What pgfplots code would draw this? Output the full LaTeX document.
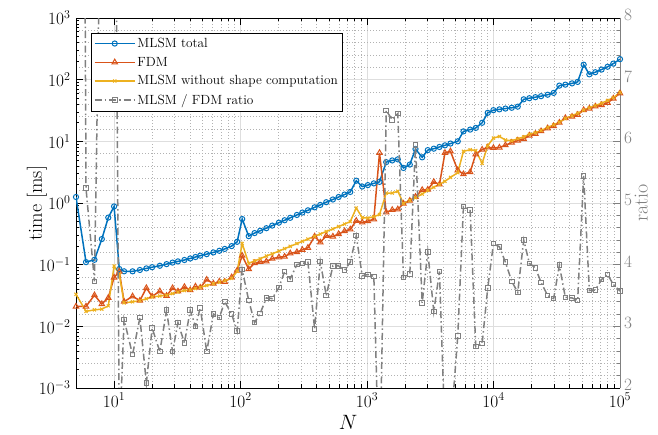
\documentclass[border=0pt]{standalone}
\usepackage{pgfplots}
\usepackage{pgfplotstable}
\pgfplotsset{compat=1.18}

\definecolor{mblue}{RGB}{0,114,189}
\definecolor{mred}{RGB}{217,83,25}
\definecolor{myellow}{RGB}{237,177,32}
\definecolor{mgray}{RGB}{128,128,128}

% N, MLSM total, FDM, MLSM without shape computation [ms], ratio MLSM/FDM
\pgfplotstableread{
N      mlsm   fdm     noshape  ratio
5      1.25   0.021   0.033    40
6      0.11   0.021   0.0175   5.24
7      0.12   0.032   0.0185   3.73
8      0.26   0.023   0.019    11.3
9      0.58   0.029   0.0215   20
10     0.88   0.062   0.095    14.2
11     0.085  0.077   0.070    1.10
12     0.078  0.0251  0.024    3.11
14     0.078  0.0307  0.025    2.54
16     0.082  0.0261  0.026    3.14
18     0.087  0.0418  0.028    2.08
20     0.091  0.0306  0.030    2.97
23     0.096  0.0371  0.031    2.59
26     0.102  0.0313  0.032    3.26
29     0.108  0.0417  0.034    2.59
32     0.113  0.0369  0.036    3.06
36     0.119  0.0436  0.038    2.73
40     0.126  0.0387  0.039    3.26
44     0.133  0.0443  0.041    3.00
48     0.140  0.0424  0.043    3.30
54     0.148  0.0571  0.046    2.59
61     0.158  0.0494  0.049    3.20
68     0.168  0.0535  0.052    3.14
75     0.180  0.0529  0.055    3.40
85     0.200  0.0625  0.060    3.20
94     0.235  0.0805  0.078    2.92
103    0.55   0.140   0.22     3.92
116    0.29   0.0848  0.105    3.42
129    0.325  0.106   0.115    3.06
143    0.355  0.111   0.125    3.21
160    0.39   0.113   0.138    3.46
178    0.43   0.125   0.150    3.45
201    0.48   0.132   0.166    3.63
223    0.525  0.135   0.182    3.89
247    0.575  0.153   0.198    3.77
279    0.64   0.160   0.220    4.00
308    0.70   0.174   0.239    4.02
341    0.76   0.188   0.260    4.04
385    0.85   0.287   0.288    2.96
427    0.93   0.230   0.314    4.05
476    1.03   0.294   0.345    3.50
537    1.14   0.286   0.380    3.98
596    1.25   0.314   0.415    3.98
664    1.37   0.350   0.455    3.91
737    1.51   0.374   0.500    4.04
822    2.30   0.515   0.830    4.47
916    1.85   0.484   0.580    3.82
1015   1.95   0.508   0.570    3.84
1132   2.08   0.546   0.600    3.81
1255   2.20   6.50    0.650    0.34
1418   4.60   0.708   1.45     6.50
1582   4.90   0.772   1.45     6.35
1751   5.10   0.791   1.55     6.45
1942   3.70   0.976   0.98     3.79
2178   4.20   1.09    1.10     3.85
2416   7.50   1.26    1.22     5.94
2729   5.50   1.63    1.40     3.38
3022   7.20   1.65    1.60     4.21
3371   7.60   2.20    1.80     3.24
3738   8.10   2.00    2.00     3.89
4131   8.60   6.50    2.25     1.25
4566   9.20   6.90    2.60     1.28
5215   10.0   3.40    3.10     2.84
5784   14.5   2.94    6.90     4.94
6535   15.5   3.17    7.30     4.89
7235   16.5   6.18    7.10     2.67
8128   20.0   7.35    4.40     2.72
9000   29.0   8.01    8.50     3.62
9981   32.0   7.83    11.3     4.34
11130  33.0   7.93    12.0     4.29
12420  34.0   8.66    10.5     4.04
13930  35.0   9.52    10.2     3.73
15540  36.5   10.3    11.0     3.55
17330  48.0   10.9    11.8     4.40
19210  50.0   12.4    13.0     4.02
21430  52.0   13.2    13.8     3.95
23770  54.0   14.6    15.0     3.71
26800  57.0   16.3    16.8     3.50
29890  61.0   17.7    18.5     3.45
33150  80.0   20.1    20.5     3.99
36980  83.0   23.9    23.5     3.47
41780  87.0   25.1    26.0     3.46
46260  92.0   26.9    28.5     3.42
51590  175    32.2    32.0     5.44
57220  122    34.1    35.0     3.58
63810  132    36.8    38.0     3.59
71550  146    38.8    41.5     3.76
79800  162    42.2    46.0     3.84
88520  182    49.5    51.0     3.68
100000 215    60.2    62.0     3.57
}\timings

\pgfplotsset{
  set layers,
  mlsmstyle/.style={mblue, line width=1.5pt, mark=o, mark size=2.6pt, mark options={solid, line width=1pt}},
  fdmstyle/.style={mred, line width=1.5pt, mark=triangle, mark size=3.1pt, mark options={solid, line width=1pt}},
  noshapestyle/.style={myellow, line width=1.5pt, mark=x, mark size=2.2pt, mark options={solid, line width=1pt}},
  ratiostyle/.style={mgray, line width=1.5pt, dash pattern=on 7pt off 3pt on 1.5pt off 3pt, mark=square, mark size=2.3pt, mark options={solid, line width=1pt}},
}

\begin{document}
\begin{tikzpicture}
\begin{axis}[
  name=ax,
  scale only axis, width=544pt, height=370pt,
  xmode=log, xmin=5, xmax=1e5,
  ymode=log, ymin=1e-3, ymax=1e3,
  axis y line*=left,
  xtick={10,100,1000,10000,100000},
  ytick={1e-3,1e-2,1e-1,1,10,100,1000},
  tick align=inside,
  major tick length=7pt, minor tick length=3.5pt,
  xmajorgrids, xminorgrids,
  major grid style={black!13, line width=0.6pt},
  minor grid style={black!30, line width=0.6pt, dash pattern=on 0.7pt off 2.3pt},
  axis line style={line width=0.9pt, black},
  tick style={black, line width=0.7pt},
  tick label style={font=\fontsize{17}{19}\selectfont},
  xticklabel style={yshift=-4pt, inner sep=1pt},
  yticklabel style={xshift=-2pt},
  label style={font=\fontsize{20}{24}\selectfont},
  xlabel={$N$}, ylabel={time [ms]},
  xlabel style={at={(axis description cs:0.5,-0.093)}, anchor=center, inner sep=0pt},
  ylabel style={at={(axis description cs:-0.072,0.5)}, anchor=center, inner sep=0pt},
]
\addplot[mlsmstyle] table[x=N, y=mlsm] {\timings};
\addplot[fdmstyle] table[x=N, y=fdm] {\timings};
\addplot[noshapestyle] table[x=N, y=noshape] {\timings};
\end{axis}

\begin{axis}[
  scale only axis, width=544pt, height=370pt,
  xmode=log, xmin=5, xmax=1e5,
  axis x line=none,
  axis y line*=right,
  ymin=2, ymax=8, ytick={2,...,8}, minor y tick num=4,
  tick align=inside,
  major tick length=7pt, minor tick length=3.5pt,
  ymajorgrids, yminorgrids,
  major grid style={black!13, line width=0.6pt},
  minor grid style={black!30, line width=0.6pt, dash pattern=on 0.7pt off 2.3pt},
  y axis line style={mgray, line width=0.9pt},
  tick style={mgray, line width=0.7pt},
  tick label style={font=\fontsize{17}{19}\selectfont},
  label style={font=\fontsize{20}{24}\selectfont},
  yticklabel style={mgray, yshift=3pt, inner sep=0.5pt, xshift=3.5pt},
  ylabel={ratio},
  ylabel style={mgray, at={(axis description cs:1.039,0.5)}, anchor=center, inner sep=0pt},
  legend cell align=left,
  legend image code/.code={\draw[mark repeat=2,mark phase=2] plot coordinates {(0pt,0pt) (20pt,0pt) (40pt,0pt)};},
  legend style={at={(0.027,0.96)}, anchor=north west, draw=black, line width=0.6pt, fill=white,
    font=\fontsize{13.3}{15}\selectfont, row sep=4pt, inner sep=3pt},
]
\addlegendimage{mlsmstyle}
\addlegendentry{MLSM total}
\addlegendimage{fdmstyle}
\addlegendentry{FDM}
\addlegendimage{noshapestyle}
\addlegendentry{MLSM without shape computation}
\addplot[ratiostyle] table[x=N, y=ratio] {\timings};
\addlegendentry{MLSM / FDM ratio}
\end{axis}
% page margins as in the exported figure
\path (ax.south west) ++(-76pt,-47pt);
\path (ax.north east) ++(38pt,18pt);
\end{tikzpicture}
\end{document}
